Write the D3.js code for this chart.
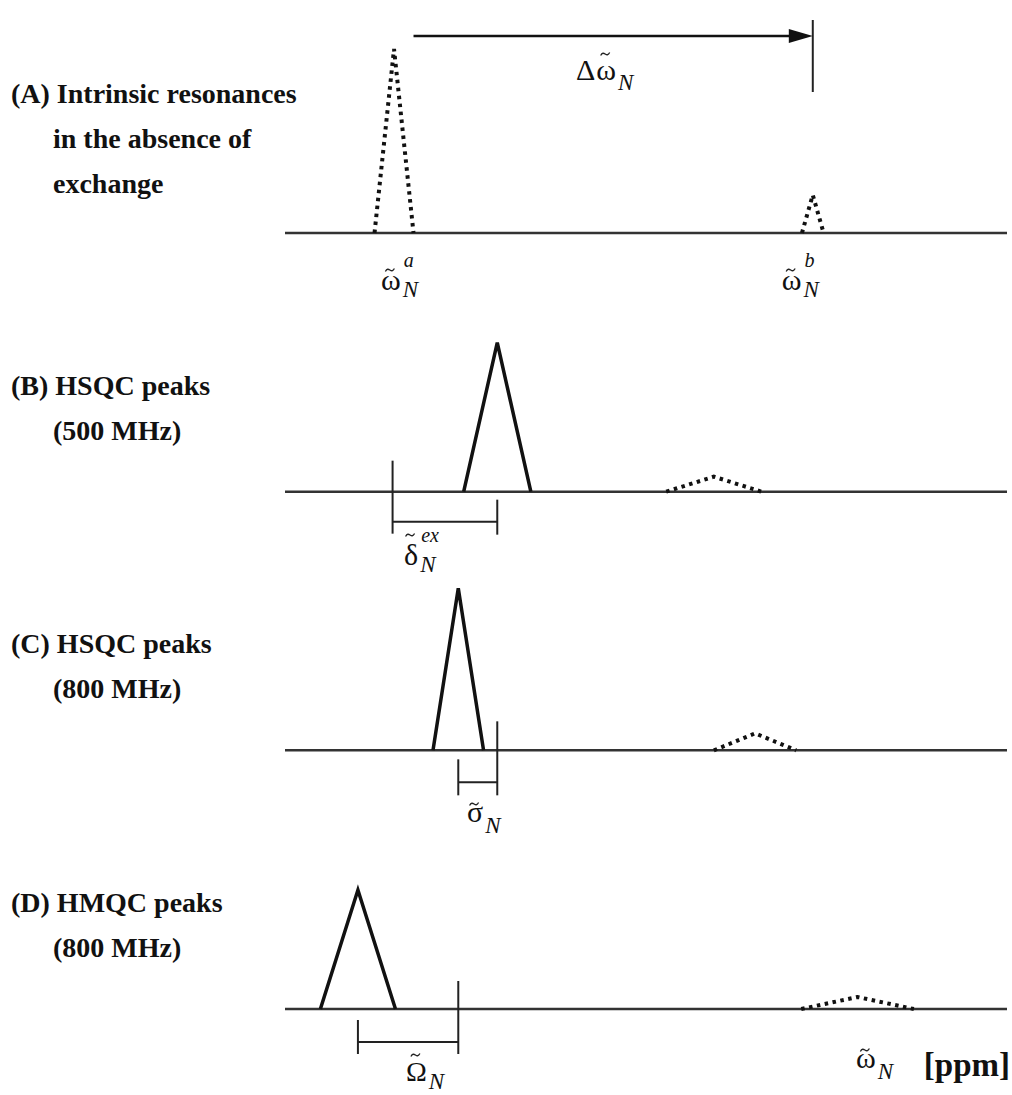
<!DOCTYPE html>
<html>
<head>
<meta charset="utf-8">
<script src="https://cdn.jsdelivr.net/npm/d3@7"></script>
<style>
  body { margin: 0; background: #fff; }
  svg { display: block; }
</style>
</head>
<body>
<div id="chart"></div>
<script>
'use strict'
// panel captions, one array of lines per panel
const panelLines = [
  ['(A) Intrinsic resonances', 'in the absence of', 'exchange'],
  ['(B) HSQC peaks', '(500 MHz)'],
  ['(C) HSQC peaks', '(800 MHz)'],
  ['(D) HMQC peaks', '(800 MHz)']
];
// peaks per panel on the chemical shift axis (0..100 arbitrary units)
const peakCenter = [[15.1, 73.1], [29.4, 59.4], [24.0, 65.1], [10.1, 79.3]];
const peakHalfWidth = [[2.7, 1.5], [4.65, 6.6], [3.5, 5.7], [5.2, 7.8]];
const peakHeight = [[0.92, 0.19], [0.745, 0.075], [0.81, 0.085], [0.595, 0.06]];
const peakDotted = [[true, true], [false, true], [false, true], [false, true]];
// reference markers (vertical lines) and brackets between shifts
const markerAt = [73.1, 14.9, 29.4, 24.0];
const bracketFrom = [null, 14.9, 24.0, 10.1];
const bracketTo = [null, 29.4, 29.4, 24.0];
const arrowFrom = 17.8, arrowTo = 73.1;

const W = 1012, H = 1095;
const serif = "'Liberation Serif','Times New Roman',serif";

let svg = d3.select('#chart').append('svg')
  .attr('width', W).attr('height', H)
  .attr('font-family', serif);

let x = d3.scaleLinear().domain([0, 100]).range([285, 1007]);
let base = d3.scaleLinear().domain([0, 3]).range([233, 1009]);
let y = d3.scaleLinear().domain([0, 1]).range([0, -200]);

let panels = svg.selectAll('.panel')
  .data(panelLines)
  .enter().append('g')
  .attr('class', 'panel')
  .attr('transform', function(d, i) { return 'translate(0,' + base(i) + ')'; });

// captions
panels.each(function(lines, i) {
  let g = d3.select(this);
  let top = i === 0 ? -130 : -97;
  g.selectAll('text.cap')
    .data(lines)
    .enter().append('text')
    .attr('class', 'cap')
    .attr('x', function(d, j) { return j === 0 ? 11 : 53; })
    .attr('y', function(d, j) { return top + j * 45; })
    .attr('font-size', '28px')
    .attr('font-weight', 'bold')
    .attr('fill', '#111')
    .text(function(d) { return d; });
});

// axis baseline
panels.append('line')
  .attr('x1', x(0)).attr('x2', x(100))
  .attr('y1', 0).attr('y2', 0)
  .attr('stroke', '#333').attr('stroke-width', 2.5);

// triangular peaks
let tri = d3.line();
panels.each(function(lines, i) {
  let g = d3.select(this);
  let peaks = peakCenter[i].map(function(c, k) {
    return {c: c, hw: peakHalfWidth[i][k], h: peakHeight[i][k], dot: peakDotted[i][k]};
  });
  g.selectAll('.peak')
    .data(peaks)
    .enter().append('path')
    .attr('class', 'peak')
    .attr('d', function(p) {
      return tri([[x(p.c - p.hw), y(0)], [x(p.c), y(p.h)], [x(p.c + p.hw), y(0)]]);
    })
    .attr('fill', 'none')
    .attr('stroke', '#111')
    .attr('stroke-width', function(p) { return p.dot ? 4 : 3.5; })
    .attr('stroke-dasharray', function(p) { return p.dot ? '3.5,4.5' : null; })
    .attr('stroke-linejoin', 'miter');
});

// markers
let markerSpan = [[-213, -141], [-31, 42], [-29, 45], [-28, 45]];
panels.append('line')
  .attr('x1', function(d, i) { return x(markerAt[i]); })
  .attr('x2', function(d, i) { return x(markerAt[i]); })
  .attr('y1', function(d, i) { return markerSpan[i][0]; })
  .attr('y2', function(d, i) { return markerSpan[i][1]; })
  .attr('stroke', '#222').attr('stroke-width', 2);

// brackets
let bracketY = [0, 30, 32, 33];
let tickSpan = [null, [8, 43], [9, 45], [11, 45]];
panels.each(function(d, i) {
  if (bracketFrom[i] === null) return;
  let g = d3.select(this);
  g.append('line')
    .attr('x1', x(bracketFrom[i])).attr('x2', x(bracketTo[i]))
    .attr('y1', bracketY[i]).attr('y2', bracketY[i])
    .attr('stroke', '#222').attr('stroke-width', 2);
  // the end that is not the marker gets its own tick
  let tickX = bracketFrom[i] === markerAt[i] ? bracketTo[i] : bracketFrom[i];
  g.append('line')
    .attr('x1', x(tickX)).attr('x2', x(tickX))
    .attr('y1', tickSpan[i][0]).attr('y2', tickSpan[i][1])
    .attr('stroke', '#222').attr('stroke-width', 2);
});

// arrow in panel A
let gA = panels.filter(function(d, i) { return i === 0; });
gA.append('line')
  .attr('x1', x(arrowFrom)).attr('x2', x(arrowTo) - 20)
  .attr('y1', -197).attr('y2', -197)
  .attr('stroke', '#111').attr('stroke-width', 2.5);
gA.append('path')
  .attr('d', tri([[x(arrowTo) - 24, -204], [x(arrowTo), -197], [x(arrowTo) - 24, -190]]) + 'Z')
  .attr('fill', '#111');

// math labels: one text per label, tilde drawn as a small stroke
function mathLabel(px, py, pre, glyph, tildeUp, sub, subDy, sup, supDy, size) {
  let g = svg.append('g').attr('transform', 'translate(' + px + ',' + py + ')');
  let t = g.append('text').attr('font-size', size + 'px').attr('fill', '#111');
  let p0 = pre ? t.append('tspan').text(pre) : null;
  let preW = p0 ? p0.node().getComputedTextLength() + 1 : 0;
  let b = t.append('tspan').attr('x', preW).text(glyph);
  let w = preW + b.node().getComputedTextLength();
  if (sup) {
    t.append('tspan').attr('x', w + 3).attr('y', supDy)
      .attr('font-size', '20px').attr('font-style', 'italic').text(sup);
  }
  if (sub) {
    t.append('tspan').attr('x', w + 2).attr('y', subDy)
      .attr('font-size', '23px').attr('font-style', 'italic').text(sub);
  }
  let cx = (preW + w) / 2 - 1;
  g.append('path')
    .attr('d', 'M' + (cx - 4.5) + ',' + (-tildeUp + 1.5) +
      ' C' + (cx - 3) + ',' + (-tildeUp - 1.5) + ' ' + (cx - 1.5) + ',' + (-tildeUp - 1) + ' ' + cx + ',' + (-tildeUp) +
      ' S' + (cx + 3) + ',' + (-tildeUp + 1.5) + ' ' + (cx + 4.5) + ',' + (-tildeUp - 1.5))
    .attr('fill', 'none').attr('stroke', '#222').attr('stroke-width', 1.3);
  return g;
}

mathLabel(576, 80, '\u0394', '\u03C9', 26, 'N', 10, null, 0, 30);
mathLabel(x(peakCenter[0][0]) - 13, 290, null, '\u03C9', 20, 'N', 7, 'a', -23, 30);
mathLabel(x(peakCenter[0][1]) - 31, 290, null, '\u03C9', 20, 'N', 7, 'b', -23, 30);
mathLabel(404, 565, null, '\u03B4', 30, 'N', 7, 'ex', -23, 30);
mathLabel(467, 822, null, '\u03C3', 18, 'N', 11, null, 0, 30);
mathLabel(406, 1081, null, '\u03A9', 26, 'N', 8, null, 0, 28);
mathLabel(856, 1068, null, '\u03C9', 18, 'N', 11, null, 0, 30);
svg.append('text')
  .attr('x', 1010).attr('y', 1076)
  .attr('text-anchor', 'end')
  .attr('font-size', '33px').attr('font-weight', 'bold')
  .attr('fill', '#111')
  .text('[ppm]');
</script>
</body>
</html>
